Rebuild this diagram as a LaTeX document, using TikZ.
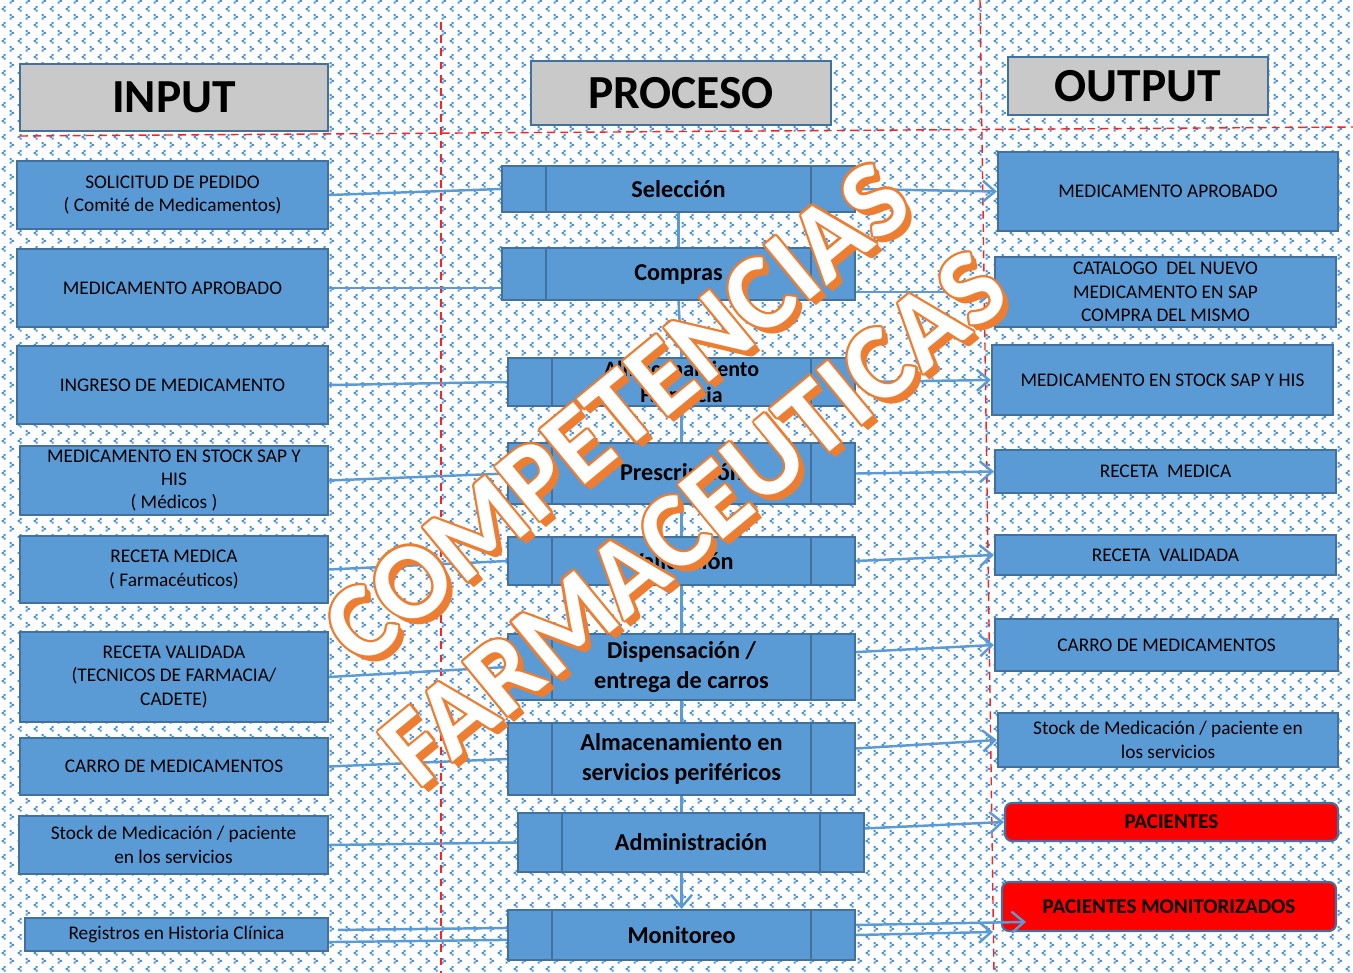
\documentclass[tikz,border=0pt]{standalone}
\usepackage{fontspec}
\setmainfont{Carlito}
\usetikzlibrary{arrows.meta,patterns,calc}

\definecolor{boxblue}{HTML}{5B9BD5}
\definecolor{edgeblue}{HTML}{41719C}
\definecolor{lineblue}{HTML}{5B9BD5}
\definecolor{dotblue}{HTML}{4A8FD6}
\definecolor{headgray}{HTML}{C9C9C9}
\definecolor{wmorange}{HTML}{ED7D31}
\definecolor{dashred}{HTML}{FF2020}

% small < and > marks, as in the reference background
\pgfdeclarepatternformonly{chevrons}{\pgfqpoint{0pt}{0pt}}{\pgfqpoint{9.1pt}{9.1pt}}{\pgfqpoint{9.1pt}{9.1pt}}{%
  \pgfpathrectangle{\pgfqpoint{2.1pt}{0.8pt}}{\pgfqpoint{1.15pt}{1.15pt}}
  \pgfpathrectangle{\pgfqpoint{0.9pt}{1.8pt}}{\pgfqpoint{1.3pt}{1.15pt}}
  \pgfpathrectangle{\pgfqpoint{2.1pt}{2.8pt}}{\pgfqpoint{1.15pt}{1.15pt}}
  \pgfpathrectangle{\pgfqpoint{5.5pt}{5.35pt}}{\pgfqpoint{1.15pt}{1.15pt}}
  \pgfpathrectangle{\pgfqpoint{6.55pt}{6.35pt}}{\pgfqpoint{1.3pt}{1.15pt}}
  \pgfpathrectangle{\pgfqpoint{5.5pt}{7.35pt}}{\pgfqpoint{1.15pt}{1.15pt}}
  \pgfusepath{fill}}

\tikzset{
  boxsize/.style 2 args={minimum width=#1*0.02cm, minimum height=#2*0.02cm},
  headbox/.style={draw=edgeblue, line width=1.3pt, fill=headgray, inner sep=1pt,
    font=\bfseries\fontsize{27}{30}\selectfont},
  inbox/.style={draw=edgeblue, line width=1.2pt, fill=boxblue, align=center, inner sep=1pt,
    font=\fontsize{11}{13.3}\selectfont},
  procbox/.style={inbox, font=\bfseries\fontsize{13.8}{17}\selectfont,
    path picture={\draw[edgeblue, line width=1.2pt]
      ([xshift=0.88cm]path picture bounding box.north west) -- ([xshift=0.88cm]path picture bounding box.south west)
      ([xshift=-0.88cm]path picture bounding box.north east) -- ([xshift=-0.88cm]path picture bounding box.south east);}},
  redbox/.style={inbox, fill=red, rounded corners=4pt, font=\bfseries\fontsize{12}{14}\selectfont},
  conn/.style={draw=lineblue, line width=1.4pt},
  arr/.style={conn, -{Straight Barb[length=7pt,width=12pt]}},
  reddash/.style={draw=dashred, line width=0.8pt, dash pattern=on 4.5pt off 3pt},
  wmtext/.style={font=\bfseries\fontsize{62}{65}\selectfont, rotate=39.5, inner sep=0pt},
}

\begin{document}
\begin{tikzpicture}[x=0.02cm, y=-0.02cm]
  \useasboundingbox (0,0) rectangle (1353,973);
  \fill[white] (0,0) rectangle (1353,973);
  \fill[pattern=chevrons, pattern color=dotblue] (0,0) rectangle (1353,973);

  % column separators
  \draw[reddash] (441,22) -- (441,973);
  \draw[reddash] (980,0) -- (994,973);
  \draw[reddash] (20,136) -- (1353,127);

  % headers
  \node[headbox, boxsize={308}{67}] (hin) at (174,97.5) {INPUT};
  \node[headbox, boxsize={300}{64}] (hproc) at (681,93) {PROCESO};
  \node[headbox, boxsize={260}{58}] (hout) at (1138,86) {OUTPUT};

  % input column
  \node[inbox, boxsize={311}{68}] (in1) at (172.5,195) {SOLICITUD DE PEDIDO\\( Comité de Medicamentos)};
  \node[inbox, boxsize={311}{78}] (in2) at (172.5,288) {MEDICAMENTO APROBADO};
  \node[inbox, boxsize={311}{78}] (in3) at (172.5,385) {INGRESO DE MEDICAMENTO};
  \node[inbox, boxsize={308}{69}] (in4) at (174,480.5) {MEDICAMENTO EN STOCK SAP Y\\HIS\\( Médicos )};
  \node[inbox, boxsize={308}{67}] (in5) at (174,569.5) {RECETA MEDICA\\( Farmacéuticos)};
  \node[inbox, boxsize={308}{90}] (in6) at (174,677) {RECETA VALIDADA\\(TECNICOS DE FARMACIA/\\CADETE)};
  \node[inbox, boxsize={308}{57}] (in7) at (174,766.5) {CARRO DE MEDICAMENTOS};
  \node[inbox, boxsize={309}{58}] (in8) at (173.5,845) {Stock de Medicación / paciente\\en los servicios};
  \node[inbox, boxsize={303}{33}] (in9) at (176.5,934.5) {Registros en Historia Clínica};

  % process column
  \node[procbox, boxsize={353}{46}] (p1) at (678.5,189) {Selección};
  \node[procbox, boxsize={353}{52}] (p2) at (678.5,274) {Compras};
  \node[procbox, boxsize={347}{48}, font=\bfseries\fontsize{12.5}{14.5}\selectfont] (p3) at (681.5,382) {Almacenamiento\\Farmacia};
  \node[procbox, boxsize={347}{61}] (p4) at (681.5,473.5) {Prescripción};
  \node[procbox, boxsize={347}{48}] (p5) at (681.5,561) {Validación};
  \node[procbox, boxsize={347}{66}] (p6) at (681.5,667) {Dispensación /\\entrega de carros};
  \node[procbox, boxsize={347}{72}] (p7) at (681.5,759) {Almacenamiento en\\servicios periféricos};
  \node[procbox, boxsize={346}{59}] (p8) at (691,842.5) {Administración};
  \node[procbox, boxsize={347}{50}] (p9) at (681.5,935) {Monitoreo};

  % output column
  \node[inbox, boxsize={340}{79}] (out1) at (1168,191.5) {MEDICAMENTO APROBADO};
  \node[inbox, boxsize={341}{70}] (out2) at (1165.5,292) {CATALOGO~~DEL NUEVO\\MEDICAMENTO EN SAP\\COMPRA DEL MISMO};
  \node[inbox, boxsize={341}{70}] (out3) at (1162.5,380) {MEDICAMENTO EN STOCK SAP Y HIS};
  \node[inbox, boxsize={341}{43}] (out4) at (1165.5,471.5) {RECETA~~MEDICA};
  \node[inbox, boxsize={341}{40}] (out5) at (1165.5,555) {RECETA~~VALIDADA};
  \node[inbox, boxsize={343}{52}] (out6) at (1166.5,645) {CARRO DE MEDICAMENTOS};
  \node[inbox, boxsize={340}{54}] (out7) at (1168,740) {Stock de Medicación / paciente en\\los servicios};
  \node[redbox, boxsize={333}{38}] (out8) at (1171.5,822) {PACIENTES};
  \node[redbox, boxsize={334}{49}] (out9) at (1169,906.5) {PACIENTES MONITORIZADOS};
  \coordinate (m9) at (993,932);

  % input -> process
  \draw[conn] (in1.east) -- (p1.west);
  \draw[conn] (in2.east) -- (in2.east -| p2.west);
  \draw[conn] (in3.east) -- (p3.west);
  \draw[conn] (in4.east) -- (p4.west);
  \draw[conn] (in5.east) -- (p5.west);
  \draw[conn] (in6.east) -- (p6.west);
  \draw[conn] (in7.east) -- (p7.west);
  \draw[conn] (in8.east) -- (p8.west);
  \draw[conn] ([xshift=0.18cm,yshift=2.6pt]in9.east) -- ([yshift=4pt]p9.west);
  \draw[conn] ([yshift=-4.3pt]in9.east) -- ([yshift=-2.8pt]p9.west);

  % process chain
  \draw[conn] (p1.south) -- (p2.north);
  \draw[conn] (p2.south) -- (p3.north);
  \draw[conn] (p3.south) -- (p4.north);
  \draw[conn] (p4.south) -- (p5.north);
  \draw[conn] (p5.south) -- (p6.north);
  \draw[conn] (p6.south) -- (p7.north);
  \draw[conn] (p7.south) -- (p7.south |- p8.north);
  \draw[arr] (p9.north |- p8.south) -- (p9.north);

  % process -> output
  \draw[arr] (p1.east) -- (out1.west);
  \draw[arr] (p2.east |- out2.west) -- (out2.west);
  \draw[arr] (p3.east) -- (out3.west);
  \draw[arr] (p4.east) -- (out4.west);
  \draw[arr] (p5.east) -- (out5.west);
  \draw[arr] ([yshift=8.5pt]p6.east) -- (out6.west);
  \draw[arr] ([yshift=6pt]p7.east) -- (out7.west);
  \draw[arr] ([yshift=8pt]p8.east) -- (out8.west);
  \draw[arr] ([yshift=5.7pt]p9.east) -- ([xshift=0.5cm,yshift=-8.8pt]out9.west);
  \draw[arr] (p9.east) -- (m9);

  % watermark: shadow, thin outline, white letters
  \foreach \s in {1,2,...,6} {
    \node[wmtext, text=wmorange] (wmas\s) at ($(617,413)+(\s,\s)$) {COMPETENCIAS};
    \node[wmtext, text=wmorange] (wmbs\s) at ($(694,518)+(\s,\s)$) {FARMACEUTICAS};
  }
  \foreach \ang in {0,30,...,330} {
    \node[wmtext, text=wmorange] (wma\ang) at ($(617,413)+(\ang:2.2)$) {COMPETENCIAS};
    \node[wmtext, text=wmorange] (wmb\ang) at ($(694,518)+(\ang:2.2)$) {FARMACEUTICAS};
  }
  \node[wmtext, text=white] (wma) at (617,413) {COMPETENCIAS};
  \node[wmtext, text=white] (wmb) at (694,518) {FARMACEUTICAS};
\end{tikzpicture}
\end{document}
